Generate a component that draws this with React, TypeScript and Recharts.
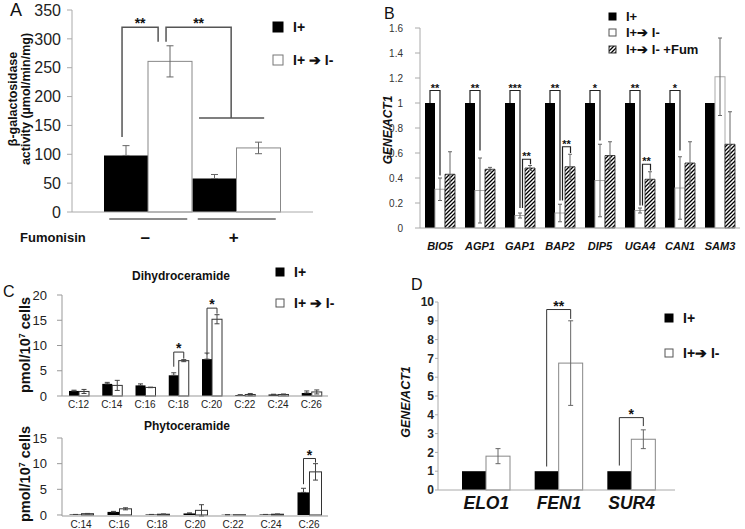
import React from 'react';
import { Bar, BarChart, ErrorBar, XAxis, YAxis } from 'recharts';

const FONT = '"Liberation Sans", Arial, Helvetica, sans-serif';

// Panel A: beta-galactosidase activity
const aGroups = ['–', '+'];
const aLplus = [98, 58];
const aLplusErr = [17, 7];
const aShift = [261, 111];
const aShiftErr = [27, 10];

// Panel B: GENE/ACT1
const bGenes = ['BIO5', 'AGP1', 'GAP1', 'BAP2', 'DIP5', 'UGA4', 'CAN1', 'SAM3'];
const bLplus = [1, 1, 1, 1, 1, 1, 1, 1];
const bShift = [0.31, 0.3, 0.1, 0.12, 0.38, 0.14, 0.32, 1.21];
const bShiftErr = [0.09, 0.26, 0.02, 0.07, 0.29, 0.02, 0.25, 0.31];
const bFum = [0.43, 0.47, 0.48, 0.49, 0.58, 0.39, 0.52, 0.67];
const bFumErr = [0.18, 0.015, 0.02, 0.1, 0.11, 0.06, 0.17, 0.26];
const bStars = ['**', '**', '***', '**', '*', '**', '*', ''];
const bStarsEnd = [0.42, 0.62, 0.16, 0.22, 0.7, 0.18, 0.62, 0];
const bFumStars = ['', '', '**', '**', '', '**', '', ''];
const bFumTop = [0, 0, 0.55, 0.65, 0, 0.51, 0, 0];
const bFumEnd = [0, 0, 0.51, 0.6, 0, 0.46, 0, 0];

// Panel C: dihydroceramide
const cDhChains = ['C:12', 'C:14', 'C:16', 'C:18', 'C:20', 'C:22', 'C:24', 'C:26'];
const cDhLplus = [1.0, 2.4, 2.1, 4.1, 7.3, 0.2, 0.3, 0.6];
const cDhLplusErr = [0.15, 0.3, 0.3, 0.5, 1.2, 0.05, 0.05, 0.4];
const cDhShift = [0.9, 2.1, 1.7, 7.0, 15.2, 0.3, 0.3, 0.8];
const cDhShiftErr = [0.4, 1.0, 0.05, 0.2, 0.9, 0.2, 0.1, 0.4];

// Panel C: phytoceramide
const cPhChains = ['C:14', 'C:16', 'C:18', 'C:20', 'C:22', 'C:24', 'C:26'];
const cPhLplus = [0.1, 0.6, 0.1, 0.3, 0.05, 0.1, 4.4];
const cPhLplusErr = [0, 0.1, 0, 0.1, 0, 0, 0.8];
const cPhShift = [0.25, 1.2, 0.15, 0.9, 0.05, 0.15, 8.4];
const cPhShiftErr = [0.05, 0.2, 0.05, 1.1, 0, 0.05, 1.6];

// Panel D: elongases
const dGenes = ['ELO1', 'FEN1', 'SUR4'];
const dLplus = [1, 1, 1];
const dShift = [1.8, 6.75, 2.7];
const dShiftErr = [0.4, 2.25, 0.5];

type Bracket = {
  cat: number;
  left: number;
  right: number;
  top: number;
  leftEnd: number;
  rightEnd: number;
  stars: string;
  under?: [number, number];
};

const aBrackets: Bracket[] = [
  { cat: 0, left: -0.59, right: 0.23, top: 320, leftEnd: 130, rightEnd: 295, stars: '**' },
  { cat: 0, left: 0.41, right: 1.89, top: 320, leftEnd: 295, rightEnd: 163, stars: '**', under: [1.16, 2.64] },
];

const bBrackets: Bracket[] = [
  ...bStars
    .map((s, i) => ({ cat: i, left: -0.5, right: 0.5, top: 1.1, leftEnd: 1.0, rightEnd: bStarsEnd[i], stars: s }))
    .filter((b) => b.stars),
  ...bFumStars
    .map((s, i) => ({ cat: i, left: 0.75, right: 1.55, top: bFumTop[i], leftEnd: bStarsEnd[i], rightEnd: bFumEnd[i], stars: s }))
    .filter((b) => b.stars),
];

const cDhBrackets: Bracket[] = [
  { cat: 3, left: -0.5, right: 0.5, top: 8.7, leftEnd: 5.8, rightEnd: 7.4, stars: '*' },
  { cat: 4, left: -0.5, right: 0.5, top: 17.4, leftEnd: 8.2, rightEnd: 16.3, stars: '*' },
];
const cPhBrackets: Bracket[] = [
  { cat: 6, left: -0.5, right: 0.5, top: 11.0, leftEnd: 6.0, rightEnd: 10.2, stars: '*' },
];
const dBrackets: Bracket[] = [
  { cat: 1, left: -0.5, right: 0.5, top: 9.6, leftEnd: 1.25, rightEnd: 9.1, stars: '**' },
  { cat: 2, left: -0.5, right: 0.5, top: 3.85, leftEnd: 1.3, rightEnd: 3.4, stars: '*' },
];

const aData = aGroups.map((g, i) => ({
  group: g,
  lplus: aLplus[i],
  lplusErr: [0, aLplusErr[i]],
  shift: aShift[i],
  shiftErr: aShiftErr[i],
}));
const bData = bGenes.map((g, i) => ({
  gene: g,
  lplus: bLplus[i],
  shift: bShift[i],
  shiftErr: bShiftErr[i],
  fum: bFum[i],
  fumErr: bFumErr[i],
}));
const cDhData = cDhChains.map((c, i) => ({
  chain: c,
  lplus: cDhLplus[i],
  lplusErr: [0, cDhLplusErr[i]],
  shift: cDhShift[i],
  shiftErr: cDhShiftErr[i],
}));
const cPhData = cPhChains.map((c, i) => ({
  chain: c,
  lplus: cPhLplus[i],
  lplusErr: [0, cPhLplusErr[i]],
  shift: cPhShift[i],
  shiftErr: cPhShiftErr[i],
}));
const dData = dGenes.map((g, i) => ({ gene: g, lplus: dLplus[i], shift: dShift[i], shiftErr: dShiftErr[i] }));

// white bar that also carries the significance brackets of its category
function bracketBar(brackets: Bracket[], stroke: string, lineColor: string, lineWidth: number, starSize: number) {
  return (p: any) => {
    const { x, y, width, height, index, payload } = p;
    const v = payload.shift;
    const base = y + height;
    const k = v > 0 ? height / v : 0;
    const toY = (u: number) => base - u * k;
    const mine = brackets.filter((b) => b.cat === index);
    return (
      <g>
        <rect x={x} y={y} width={width} height={height} fill="#fff" stroke={stroke} strokeWidth={1} />
        {mine.map((b, i) => {
          const x1 = x + b.left * width;
          const x2 = x + b.right * width;
          const yt = toY(b.top);
          return (
            <g key={i}>
              <polyline
                points={`${x1},${toY(b.leftEnd)} ${x1},${yt} ${x2},${yt} ${x2},${toY(b.rightEnd)}`}
                fill="none"
                stroke={lineColor}
                strokeWidth={lineWidth}
              />
              {b.under && (
                <line
                  x1={x + b.under[0] * width}
                  x2={x + b.under[1] * width}
                  y1={toY(b.rightEnd)}
                  y2={toY(b.rightEnd)}
                  stroke={lineColor}
                  strokeWidth={lineWidth}
                />
              )}
              <text x={(x1 + x2) / 2} y={yt + 1} textAnchor="middle" fontSize={starSize} fontWeight="bold" fill="#111" fontFamily={FONT}>
                {b.stars}
              </text>
            </g>
          );
        })}
      </g>
    );
  };
}

const FumTick = (p: any) => {
  const { x, y, payload } = p;
  return (
    <g>
      <line x1={x - 39} x2={x + 39} y1={y + 7} y2={y + 7} stroke="#666" strokeWidth={1.5} />
      <text x={x - 3} y={y + 31} textAnchor="middle" fontSize={17} fontWeight="bold" fill="#111" fontFamily={FONT}>
        {payload.value}
      </text>
    </g>
  );
};

const abs = (left: number, top: number): React.CSSProperties => ({ position: 'absolute', left, top });

function LegendRow({ x, y, size, fill, stroke, label, fontSize = 14 }: any) {
  return (
    <g>
      <rect x={x} y={y} width={size} height={size} fill={fill} stroke={stroke} strokeWidth={1} />
      <text x={x + size + 10} y={y + size / 2 + fontSize * 0.36} fontSize={fontSize} fontWeight="bold" fill="#111" fontFamily={FONT}>
        {label}
      </text>
    </g>
  );
}

function VLabel({ x, y, children, size, italic }: any) {
  return (
    <text
      x={x}
      y={y}
      transform={`rotate(-90 ${x} ${y})`}
      textAnchor="middle"
      fontSize={size}
      fontWeight="bold"
      fontStyle={italic ? 'italic' : 'normal'}
      fill="#111"
      fontFamily={FONT}
    >
      {children}
    </text>
  );
}

export default function App() {
  const axisGray = { stroke: '#aaa' };
  return (
    <div style={{ position: 'absolute', left: 0, top: 0, width: 745, height: 529, background: '#fff', overflow: 'hidden', fontFamily: FONT }}>
      <svg width={0} height={0} style={{ position: 'absolute' }}>
        <defs>
          <pattern id="hatch" patternUnits="userSpaceOnUse" width={4} height={4}>
            <rect width={4} height={4} fill="#fff" />
            <path d="M-1,1 l2,-2 M0,4 l4,-4 M3,5 l2,-2" stroke="#000" strokeWidth={1.3} />
          </pattern>
        </defs>
      </svg>

      {/* A */}
      <div style={abs(0, 0)}>
        <BarChart width={330} height={250} data={aData} margin={{ top: 10, right: 17, bottom: 8, left: 0 }} barGap={0} barCategoryGap={0}>
          <XAxis dataKey="group" padding={{ left: 32, right: 32 }} height={30} tickSize={0} tickMargin={0} tickLine={false} axisLine={axisGray} tick={<FumTick />} interval={0} />
          <YAxis width={72} domain={[0, 350]} ticks={[0, 50, 100, 150, 200, 250, 300, 350]} interval={0} tickSize={5} tickMargin={6} axisLine={axisGray} tickLine={axisGray} tick={{ fontSize: 16, fill: '#222', fontFamily: FONT }} />
          <Bar dataKey="lplus" fill="#000" isAnimationActive={false}>
            <ErrorBar dataKey="lplusErr" width={3.5} stroke="#666" strokeWidth={1} isAnimationActive={false} />
          </Bar>
          <Bar dataKey="shift" fill="#fff" isAnimationActive={false} shape={bracketBar(aBrackets, '#888', '#555', 1.5, 14)}>
            <ErrorBar dataKey="shiftErr" width={3.5} stroke="#666" strokeWidth={1} isAnimationActive={false} />
          </Bar>
        </BarChart>
      </div>

      {/* B */}
      <div style={abs(380, 0)}>
        <BarChart width={365} height={265} data={bData} margin={{ top: 28, right: 5, bottom: 7, left: 0 }} barGap={0} barCategoryGap={5}>
          <XAxis dataKey="gene" height={30} tickSize={0} tickMargin={14} tickLine={false} axisLine={axisGray} interval={0} tick={{ fontSize: 11, fontWeight: 'bold', fontStyle: 'italic', fill: '#111', fontFamily: FONT }} />
          <YAxis width={40} domain={[0, 1.6]} ticks={[0, 0.2, 0.4, 0.6, 0.8, 1, 1.2, 1.4, 1.6]} interval={0} tickSize={5} tickMargin={12} axisLine={axisGray} tickLine={axisGray} tick={{ fontSize: 10, fill: '#333', fontFamily: FONT }} />
          <Bar dataKey="lplus" fill="#000" isAnimationActive={false} />
          <Bar dataKey="shift" fill="#fff" isAnimationActive={false} shape={bracketBar(bBrackets, '#aaa', '#222', 1.2, 11)}>
            <ErrorBar dataKey="shiftErr" width={2} stroke="#666" strokeWidth={1} isAnimationActive={false} />
          </Bar>
          <Bar dataKey="fum" fill="url(#hatch)" stroke="#222" strokeWidth={0.8} isAnimationActive={false}>
            <ErrorBar dataKey="fumErr" width={2} stroke="#666" strokeWidth={1} isAnimationActive={false} />
          </Bar>
        </BarChart>
      </div>

      {/* C dihydroceramide */}
      <div style={abs(0, 280)}>
        <BarChart width={340} height={140} data={cDhData} margin={{ top: 15, right: 12, bottom: 4, left: 0 }} barGap={0} barCategoryGap={7}>
          <XAxis dataKey="chain" height={20} tickSize={0} tickMargin={5} tickLine={false} axisLine={{ stroke: '#999' }} interval={0} tick={{ fontSize: 10, fill: '#222', fontFamily: FONT }} />
          <YAxis width={62} domain={[0, 20]} ticks={[0, 5, 10, 15, 20]} interval={0} tickSize={5} tickMargin={10} axisLine={{ stroke: '#999' }} tickLine={{ stroke: '#999' }} tick={{ fontSize: 13, fill: '#222', fontFamily: FONT }} />
          <Bar dataKey="lplus" fill="#000" isAnimationActive={false}>
            <ErrorBar dataKey="lplusErr" width={2.5} stroke="#444" strokeWidth={1} isAnimationActive={false} />
          </Bar>
          <Bar dataKey="shift" fill="#fff" isAnimationActive={false} shape={bracketBar(cDhBrackets, '#333', '#333', 1, 14)}>
            <ErrorBar dataKey="shiftErr" width={2.5} stroke="#444" strokeWidth={1} isAnimationActive={false} />
          </Bar>
        </BarChart>
      </div>

      {/* C phytoceramide */}
      <div style={abs(0, 430)}>
        <BarChart width={340} height={99} data={cPhData} margin={{ top: 8, right: 12, bottom: 0, left: 0 }} barGap={0} barCategoryGap={7.5}>
          <XAxis dataKey="chain" height={13} tickSize={0} tickMargin={5} tickLine={false} axisLine={{ stroke: '#999' }} interval={0} tick={{ fontSize: 10, fill: '#222', fontFamily: FONT }} />
          <YAxis width={62} domain={[0, 15]} ticks={[0, 5, 10, 15]} interval={0} tickSize={5} tickMargin={10} axisLine={{ stroke: '#999' }} tickLine={{ stroke: '#999' }} tick={{ fontSize: 13, fill: '#222', fontFamily: FONT }} />
          <Bar dataKey="lplus" fill="#000" isAnimationActive={false}>
            <ErrorBar dataKey="lplusErr" width={2.5} stroke="#444" strokeWidth={1} isAnimationActive={false} />
          </Bar>
          <Bar dataKey="shift" fill="#fff" isAnimationActive={false} shape={bracketBar(cPhBrackets, '#333', '#333', 1, 14)}>
            <ErrorBar dataKey="shiftErr" width={2.5} stroke="#444" strokeWidth={1} isAnimationActive={false} />
          </Bar>
        </BarChart>
      </div>

      {/* D */}
      <div style={abs(380, 290)}>
        <BarChart width={300} height={230} data={dData} margin={{ top: 12, right: 5, bottom: 2, left: 0 }} barGap={0} barCategoryGap={12}>
          <XAxis dataKey="gene" padding={{ left: 12, right: 7 }} height={28} tickSize={0} tickMargin={7} tickLine={false} axisLine={axisGray} interval={0} tick={{ fontSize: 17.5, fontWeight: 'bold', fontStyle: 'italic', fill: '#111', fontFamily: FONT }} />
          <YAxis width={58} domain={[0, 10]} ticks={[0, 1, 2, 3, 4, 5, 6, 7, 8, 9, 10]} interval={0} tickSize={3} tickMargin={1} axisLine={axisGray} tickLine={axisGray} tick={{ fontSize: 12, fontWeight: 'bold', fill: '#222', fontFamily: FONT }} />
          <Bar dataKey="lplus" fill="#000" isAnimationActive={false} />
          <Bar dataKey="shift" fill="#fff" isAnimationActive={false} shape={bracketBar(dBrackets, '#888', '#333', 1, 14)}>
            <ErrorBar dataKey="shiftErr" width={2.5} stroke="#666" strokeWidth={1} isAnimationActive={false} />
          </Bar>
        </BarChart>
      </div>

      {/* texts, legends */}
      <svg width={745} height={529} style={{ position: 'absolute', left: 0, top: 0, pointerEvents: 'none' }}>
        <text x={10} y={16} fontSize={18} fill="#111" fontFamily={FONT}>A</text>
        <text x={384} y={19} fontSize={16} fill="#111" fontFamily={FONT}>B</text>
        <text x={3} y={297} fontSize={16} fill="#111" fontFamily={FONT}>C</text>
        <text x={411} y={290} fontSize={16} fill="#111" fontFamily={FONT}>D</text>

        <VLabel x={17} y={99} size={12.5}>β-galactosidase</VLabel>
        <VLabel x={30} y={99} size={12.5}>activity (µmol/min/mg)</VLabel>
        <text x={20} y={242} fontSize={13} fontWeight="bold" fill="#111" fontFamily={FONT}>Fumonisin</text>

        <VLabel x={392} y={130} size={12} italic>GENE/ACT1</VLabel>
        <VLabel x={410} y={402} size={12.5} italic>GENE/ACT1</VLabel>

        <VLabel x={30} y={345} size={14.5}>
          pmol/10<tspan baselineShift="super" fontSize={9}>7</tspan> cells
        </VLabel>
        <VLabel x={30} y={474} size={14.5}>
          pmol/10<tspan baselineShift="super" fontSize={9}>7</tspan> cells
        </VLabel>
        <text x={181} y={280} textAnchor="middle" fontSize={12} fontWeight="bold" fill="#111" fontFamily={FONT}>Dihydroceramide</text>
        <text x={187} y={430} textAnchor="middle" fontSize={12} fontWeight="bold" fill="#111" fontFamily={FONT}>Phytoceramide</text>

        <LegendRow x={273} y={22} size={10} fill="#000" stroke="#000" label="I+" />
        <LegendRow x={273} y={55} size={10} fill="#fff" stroke="#777" label="I+ ➔ I-" />

        <LegendRow x={609} y={13} size={7} fill="#000" stroke="#000" label="I+" fontSize={13} />
        <LegendRow x={609} y={29} size={7} fill="#fff" stroke="#555" label="I+➔ I-" fontSize={13} />
        <LegendRow x={609} y={46} size={7} fill="url(#hatch)" stroke="#333" label="I+➔ I- +Fum" fontSize={13} />

        <LegendRow x={276} y={268} size={8} fill="#000" stroke="#000" label="I+" />
        <LegendRow x={276} y={299} size={8} fill="#fff" stroke="#555" label="I+ ➔ I-" />

        <LegendRow x={665} y={314} size={8} fill="#000" stroke="#000" label="I+" />
        <LegendRow x={665} y={349} size={8} fill="#fff" stroke="#555" label="I+➔ I-" />
      </svg>
    </div>
  );
}
